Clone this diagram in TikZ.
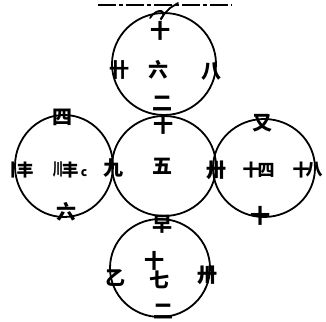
\documentclass[tikz,border=0pt]{standalone}
\usepackage{fontspec}
\newfontfamily\cjk{Noto Sans CJK SC}
\begin{document}
\begin{tikzpicture}[x=1pt,y=-1pt,
  ring/.style={draw=black,line width=1.8pt},
  num/.style={font=\cjk\bfseries\fontsize{20}{20}\selectfont,inner sep=0pt},
  part/.style={font=\cjk\bfseries\fontsize{17}{17}\selectfont,inner sep=0pt},
  small/.style={font=\cjk\bfseries\fontsize{12}{12}\selectfont,inner sep=0pt}]
\useasboundingbox (0,0) rectangle (326,321);
\fill[white] (0,0) rectangle (326,321);
% top border line
\draw[line width=1.2pt,dash pattern=on 18pt off 3pt on 4pt off 3pt] (98,5) -- (232,5);
% circles
\draw[ring] (164,64) ellipse [x radius=52, y radius=51];
\draw[ring] (164,166) ellipse [x radius=52, y radius=50];
\draw[ring] (64,166) ellipse [x radius=49, y radius=51];
\draw[ring] (264,168) ellipse [x radius=51, y radius=49];
\draw[ring] (160,268) ellipse [x radius=50, y radius=49];
% top squiggle
\draw[line width=1.8pt,line cap=round] (150,18) .. controls (155,10) and (165,8) .. (163,16) .. controls (160,22) and (158,20) .. (170,8) -- (178,3);
% top circle
\node[num] (t1) at (160,31) {十};
\node[num] (t2) at (119,70) {卄};
\node[num] (t3) at (158,70) {六};
\node[num] (t4) at (211,72) {八};
\node[num] (t5) at (162,104) {二};
\node[num] (t6) at (163,125) {十};
% centre circle
\node[num] (c0) at (162,166) {五};
\node[num] (c1) at (113,168) {九};
\node[num] (c2) at (216,170) {卅};
\node[num] (c3) at (162,224) {早};
% left circle
\node[num] (l1) at (62,117) {四};
\node[part] (l2a) at (13,170) {丨};
\node[part] (l2b) at (25,170) {丰};
\node[part,xscale=0.6] (l3a) at (58,170) {川};
\node[part] (l3b) at (70,170) {丰};
\node[small] (l3c) at (84,173) {c};
\node[num] (l4) at (66,212) {六};
% right circle
\node[num] (r1) at (262,123) {又};
\node[part] (r2a) at (251,170) {十};
\node[part] (r2b) at (266,170) {四};
\node[part] (r3a) at (301,170) {十};
\node[part] (r3b) at (314,170) {八};
\node[num] (r4) at (260,216) {十};
% bottom circle
\node[num] (b1a) at (154,261) {十};
\node[num] (b1b) at (159,280) {七};
\node[num] (b2) at (115,278) {乙};
\node[num] (b3) at (207,275) {卅};
\node[num] (b4) at (163,312) {二};
\end{tikzpicture}
\end{document}
